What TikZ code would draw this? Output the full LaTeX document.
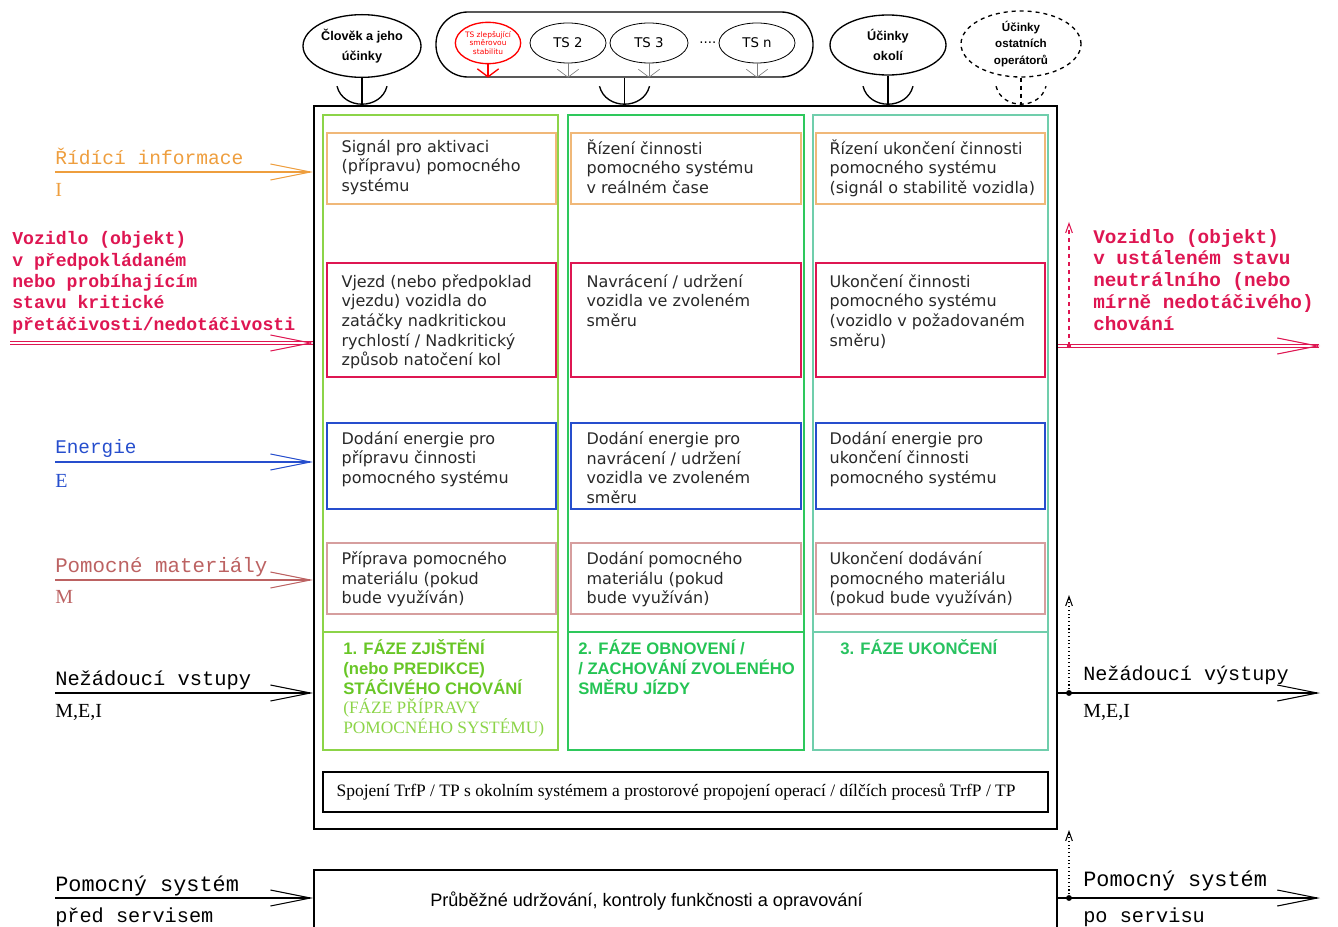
\documentclass[tikz,border=0pt]{standalone}
\usepackage{fontspec}
\setmainfont{Liberation Serif}
\setsansfont{DejaVu Sans}
\setmonofont{Liberation Mono}
\newfontfamily\arialfont{Liberation Sans}
\usetikzlibrary{positioning,fit,calc,shapes.geometric,arrows.meta}

\definecolor{infoor}{RGB}{238,158,62}
\definecolor{infobox}{RGB}{240,184,120}
\definecolor{vozred}{RGB}{222,22,82}
\definecolor{enblue}{RGB}{38,78,205}
\definecolor{matrose}{RGB}{188,98,98}
\definecolor{matbox}{RGB}{214,158,158}
\definecolor{phaseA}{RGB}{140,212,72}
\definecolor{phaseB}{RGB}{46,200,92}
\definecolor{phaseC}{RGB}{112,206,172}
\definecolor{phtxtA}{RGB}{104,198,38}
\definecolor{phtxtB}{RGB}{36,196,84}
\definecolor{phtxtC}{RGB}{40,194,96}
\definecolor{celltext}{RGB}{40,40,40}

% oblouk "zasuvky" nad hornim okrajem systemu
\newcommand{\sockarc}[2][]{\draw[line width=1pt,#1] ($(#2)+(-25,-19)$) .. controls +(6,24) and +(-6,24) .. ($(#2)+(25,-19)$);}

\tikzset{
  cell/.style={draw, inner sep=0pt, line width=1pt},
  celltxt/.style={anchor=north west, inner sep=0pt, align=left, text=celltext, font=\sffamily\fontsize{12}{14.7}\selectfont, execute at begin node={\rule{0pt}{12pt}}},
  phasebox/.style={draw, inner sep=0pt, line width=1.1pt},
  phasetxt/.style={anchor=base west, inner sep=0pt, align=left, font=\arialfont\bfseries\fontsize{12.5}{15}\selectfont},
  sidelbl/.style={anchor=base west, inner sep=0pt, align=left},
  sidesym/.style={anchor=base west, inner sep=0pt, font=\rmfamily\fontsize{15}{17}\selectfont},
  flow/.style={line width=0.8pt, -{Straight Barb[length=30pt,width=12pt]}},
  oval/.style={draw, ellipse, inner sep=0pt, line width=1pt},
  ovaltxt/.style={inner sep=0pt, align=center, font=\arialfont\bfseries\fontsize{9.5}{15}\selectfont},
  tsoval/.style={draw, ellipse, inner sep=0pt, line width=0.6pt, minimum width=57pt, minimum height=30pt, font=\sffamily\fontsize{10}{12}\selectfont},
  tsarrow/.style={line width=0.5pt, -{Straight Barb[length=6pt,width=16pt]}},
  upmark/.style={line width=0.8pt, -{Straight Barb[length=7pt,width=5pt]}},
}

\begin{document}
\begin{tikzpicture}[x=0.75pt,y=-0.75pt]
\useasboundingbox (0,0) rectangle (1338,927);
\clip (0,0) rectangle (1338,927);

% system a faze
\node[draw, line width=1.2pt, inner sep=0pt, fit={(314,106)(1057,829)}] (sys) {};
\node[phasebox, draw=phaseA, fit={(323,115)(558,750)}] (colA) {};
\node[phasebox, draw=phaseB, fit={(568,115)(804,750)}] (colB) {};
\node[phasebox, draw=phaseC, fit={(813,115)(1048,750)}] (colC) {};
\coordinate (phy) at (0,632);
\draw[line width=1.1pt, phaseA] (colA.west |- phy) -- (colA.east |- phy);
\draw[line width=1.1pt, phaseB] (colB.west |- phy) -- (colB.east |- phy);
\draw[line width=1.1pt, phaseC] (colC.west |- phy) -- (colC.east |- phy);

% radek I
\node[cell, draw=infobox, fit={(327,133)(556,204)}] (infoA) {};
\node[cell, draw=infobox, fit={(571,133)(801,204)}] (infoB) {};
\node[cell, draw=infobox, fit={(816,133)(1045,204)}] (infoC) {};
\node[celltxt] (infoAt) at ($(infoA.north west)+(15,7)$) {Signál pro aktivaci\\(přípravu) pomocného\\systému};
\node[celltxt] (infoBt) at ($(infoB.north west)+(16,7)$) {Řízení činnosti\\pomocného systému\\v reálném čase};
\node[celltxt] (infoCt) at ($(infoC.north west)+(14,7)$) {Řízení ukončení činnosti\\pomocného systému\\(signál o stabilitě vozidla)};

% radek vozidlo
\node[cell, draw=vozred, fit={(327,263)(556,377)}] (vozA) {};
\node[cell, draw=vozred, fit={(571,263)(801,377)}] (vozB) {};
\node[cell, draw=vozred, fit={(816,263)(1045,377)}] (vozC) {};
\node[celltxt] (vozAt) at ($(vozA.north west)+(15,12)$) {Vjezd (nebo předpoklad\\vjezdu) vozidla do\\zatáčky nadkritickou\\rychlostí / Nadkritický\\způsob natočení kol};
\node[celltxt] (vozBt) at ($(vozB.north west)+(16,12)$) {Navrácení / udržení\\vozidla ve zvoleném\\směru};
\node[celltxt] (vozCt) at ($(vozC.north west)+(14,12)$) {Ukončení činnosti\\pomocného systému\\(vozidlo v požadovaném\\směru)};

% radek E
\node[cell, draw=enblue, fit={(327,423)(556,509)}] (enA) {};
\node[cell, draw=enblue, fit={(571,423)(801,509)}] (enB) {};
\node[cell, draw=enblue, fit={(816,423)(1045,509)}] (enC) {};
\node[celltxt] (enAt) at ($(enA.north west)+(15,9)$) {Dodání energie pro\\přípravu činnosti\\pomocného systému};
\node[celltxt] (enBt) at ($(enB.north west)+(16,9)$) {Dodání energie pro\\navrácení / udržení\\vozidla ve zvoleném\\směru};
\node[celltxt] (enCt) at ($(enC.north west)+(14,9)$) {Dodání energie pro\\ukončení činnosti\\pomocného systému};

% radek M
\node[cell, draw=matbox, fit={(327,543)(556,614)}] (matA) {};
\node[cell, draw=matbox, fit={(571,543)(801,614)}] (matB) {};
\node[cell, draw=matbox, fit={(816,543)(1045,614)}] (matC) {};
\node[celltxt] (matAt) at ($(matA.north west)+(15,9)$) {Příprava pomocného\\materiálu (pokud\\bude využíván)};
\node[celltxt] (matBt) at ($(matB.north west)+(16,9)$) {Dodání pomocného\\materiálu (pokud\\bude využíván)};
\node[celltxt] (matCt) at ($(matC.north west)+(14,9)$) {Ukončení dodávání\\pomocného materiálu\\(pokud bude využíván)};

% nazvy fazi (kotva = posledni radek)
\node[phasetxt, text=phtxtA] (phA) at (343,694) {1. FÁZE ZJIŠTĚNÍ\\(nebo PREDIKCE)\\STÁČIVÉHO CHOVÁNÍ};
\node[anchor=base west, inner sep=0pt, align=left, text=phaseA, font=\rmfamily\fontsize{13}{14.6}\selectfont] (phAsub) at (343,733) {(FÁZE PŘÍPRAVY\\POMOCNÉHO SYSTÉMU)};
\node[phasetxt, text=phtxtB] (phB) at (578,694) {2. FÁZE OBNOVENÍ /\\/ ZACHOVÁNÍ ZVOLENÉHO\\SMĚRU JÍZDY};
\node[phasetxt, text=phtxtC] (phC) at (840,654) {3. FÁZE UKONČENÍ};

% spojeni s okolim
\node[draw, line width=0.9pt, inner sep=0pt, fit={(323,772)(1048,812)}] (note) {};
\node[anchor=west, inner sep=0pt, font=\rmfamily\fontsize{13.1}{15}\selectfont] (notet) at ($(note.west)+(14,0)$) {Spojení TrfP / TP s okolním systémem a prostorové propojení operací / dílčích procesů TrfP / TP};

% servis
\node[draw, line width=1.2pt, inner sep=0pt, fit={(314,870)(1057,960)}] (servis) {};
\node[anchor=base west, inner sep=0pt, font=\arialfont\fontsize{13.6}{15}\selectfont] (servist) at (430,906) {Průběžné udržování, kontroly funkčnosti a opravování};

% horni vlivy
\node[oval, minimum width=88.5pt, minimum height=47pt] (clovek) at (362,46) {};
\node[ovaltxt] (clovekt) at (clovek) {Člověk a jeho\\účinky};
\draw[line width=1pt] (clovek.south) -- (clovek.south |- sys.north);
\sockarc{clovek.south |- sys.north}

\node[draw, line width=1pt, rounded corners=24pt, inner sep=0pt, fit={(436,12)(813,77)}] (tsgrp) {};
\node[tsoval, draw=red, line width=1pt, minimum width=49pt, minimum height=31pt] (tsred) at (488,43) {};
\node[inner sep=0pt, align=center, text=red, font=\sffamily\fontsize{5.6}{6.3}\selectfont] (tsredt) at (tsred) {TS zlepšující\\směrovou\\stabilitu};
\node[tsoval] (ts2) at (568,43) {TS 2};
\node[tsoval, minimum width=58.5pt] (ts3) at (649,43) {TS 3};
\node[inner sep=0pt, font=\sffamily\fontsize{10}{12}\selectfont, right=8pt of ts3] (tsdots) {....};
\node[tsoval] (tsn) at (757,43) {TS n};
\draw[tsarrow, red, line width=1pt] (tsred.south) -- (tsred.south |- tsgrp.south);
\draw[tsarrow, gray] (ts2.south) -- (ts2.south |- tsgrp.south);
\draw[tsarrow, gray] (ts3.south) -- (ts3.south |- tsgrp.south);
\draw[tsarrow, gray] (tsn.south) -- (tsn.south |- tsgrp.south);
\draw[line width=1pt] (tsgrp.south) -- (tsgrp.south |- sys.north);
\sockarc{tsgrp.south |- sys.north}

\node[oval, minimum width=87pt, minimum height=45pt] (okoli) at (888,45) {};
\node[ovaltxt] (okolit) at (okoli) {Účinky\\okolí};
\draw[line width=1pt] (okoli.south) -- (okoli.south |- sys.north);
\sockarc{okoli.south |- sys.north}

\node[oval, dashed, minimum width=90pt, minimum height=49.5pt] (ostatni) at (1021,44) {};
\node[ovaltxt, font=\arialfont\bfseries\fontsize{8.7}{12.2}\selectfont] (ostatnit) at (ostatni) {Účinky\\ostatních\\operátorů};
\draw[line width=1pt, dashed] (ostatni.south) -- (ostatni.south |- sys.north);
\sockarc[dashed]{ostatni.south |- sys.north}

% vstupy
\coordinate (infoS) at (55,172);
\node[sidelbl, text=infoor, font=\ttfamily\fontsize{14.7}{17}\selectfont] (infolbl) at ($(infoS)+(0,-7)$) {Řídící informace};
\node[sidesym, text=infoor] (infosym) at ($(infoS)+(0,25)$) {I};
\draw[flow, infoor] (infoS) -- (infoS -| sys.west);

\coordinate (vozS) at (10,343);
\node[sidelbl, text=vozred, font=\ttfamily\bfseries\fontsize{13.6}{16}\selectfont] (vozlbl) at (12,330) {Vozidlo (objekt)\\v předpokládaném\\nebo probíhajícím\\stavu kritické\\přetáčivosti/nedotáčivosti};
\draw[vozred, double, double distance=1.8pt, line width=0.6pt] (vozS) -- (vozS -| sys.west);
\draw[vozred, flow] ($(vozS -| sys.west)+(-2,0)$) -- (vozS -| sys.west);

\coordinate (enS) at (55,462);
\node[sidelbl, text=enblue, font=\ttfamily\fontsize{14.5}{17}\selectfont] (enlbl) at ($(enS)+(0,-9)$) {Energie};
\node[sidesym, text=enblue] (ensym) at ($(enS)+(0,25)$) {E};
\draw[flow, enblue] (enS) -- (enS -| sys.west);

\coordinate (matS) at (55,580);
\node[sidelbl, text=matrose, font=\ttfamily\fontsize{15.6}{17}\selectfont] (matlbl) at ($(matS)+(0,-8)$) {Pomocné materiály};
\node[sidesym, text=matrose] (matsym) at ($(matS)+(0,23)$) {M};
\draw[flow, matrose] (matS) -- (matS -| sys.west);

\coordinate (nzS) at (55,693);
\node[sidelbl, font=\ttfamily\fontsize{15.3}{17}\selectfont] (nzlbl) at ($(nzS)+(0,-8)$) {Nežádoucí vstupy};
\node[sidesym] (nzsym) at ($(nzS)+(0,24)$) {M,E,I};
\draw[flow] (nzS) -- (nzS -| sys.west);

\coordinate (srvS) at (55,898);
\node[sidelbl, font=\ttfamily\fontsize{16.4}{17}\selectfont] (srvlbl) at ($(srvS)+(0,-7)$) {Pomocný systém};
\node[sidelbl, font=\ttfamily\fontsize{15.2}{17}\selectfont] (srvsym) at ($(srvS)+(0,24)$) {před servisem};
\draw[flow] (srvS) -- (servis.west |- srvS);

% vystupy
\coordinate (vozE) at (1320,346);
\coordinate (vozdot) at (1069,346);
\coordinate (vozup) at (1069,222);
\node[sidelbl, text=vozred, font=\ttfamily\bfseries\fontsize{14.5}{16.3}\selectfont] (vozout) at (1093,330) {Vozidlo (objekt)\\v ustáleném stavu\\neutrálního (nebo\\mírně nedotáčivého)\\chování};
\draw[vozred, double, double distance=1.8pt, line width=0.6pt] (vozE -| sys.east) -- ($(vozE)+(-1,0)$);
\draw[vozred, flow] ($(vozE)+(-2,0)$) -- (vozE);
\draw[vozred, dashed, upmark] (vozdot) -- (vozup);
\fill[vozred] (vozdot) circle (1.6pt);

\coordinate (nzE) at (1320,693);
\coordinate (nzdot) at (1069,693);
\coordinate (nzup) at (1069,595);
\node[sidelbl, font=\ttfamily\fontsize{15.1}{17}\selectfont] (nzout) at (1083,680) {Nežádoucí výstupy};
\node[sidesym] (nzoutsym) at (1083,717) {M,E,I};
\draw[flow] (nzE -| sys.east) -- (nzE);
\draw[dotted, upmark] (nzdot) -- (nzup);
\fill (nzdot) circle (2.2pt);

\coordinate (srvE) at (1320,898);
\coordinate (srvdot) at (1069,898);
\coordinate (srvup) at (1069,830);
\node[sidelbl, font=\ttfamily\fontsize{16.4}{17}\selectfont] (srvout) at (1083,886) {Pomocný systém};
\node[sidelbl, font=\ttfamily\fontsize{15.2}{17}\selectfont] (srvoutsym) at (1083,922) {po servisu};
\draw[flow] (servis.east |- srvE) -- (srvE);
\draw[dotted, upmark] (srvdot) -- (srvup);
\fill (srvdot) circle (2.2pt);
\end{tikzpicture}
\end{document}
